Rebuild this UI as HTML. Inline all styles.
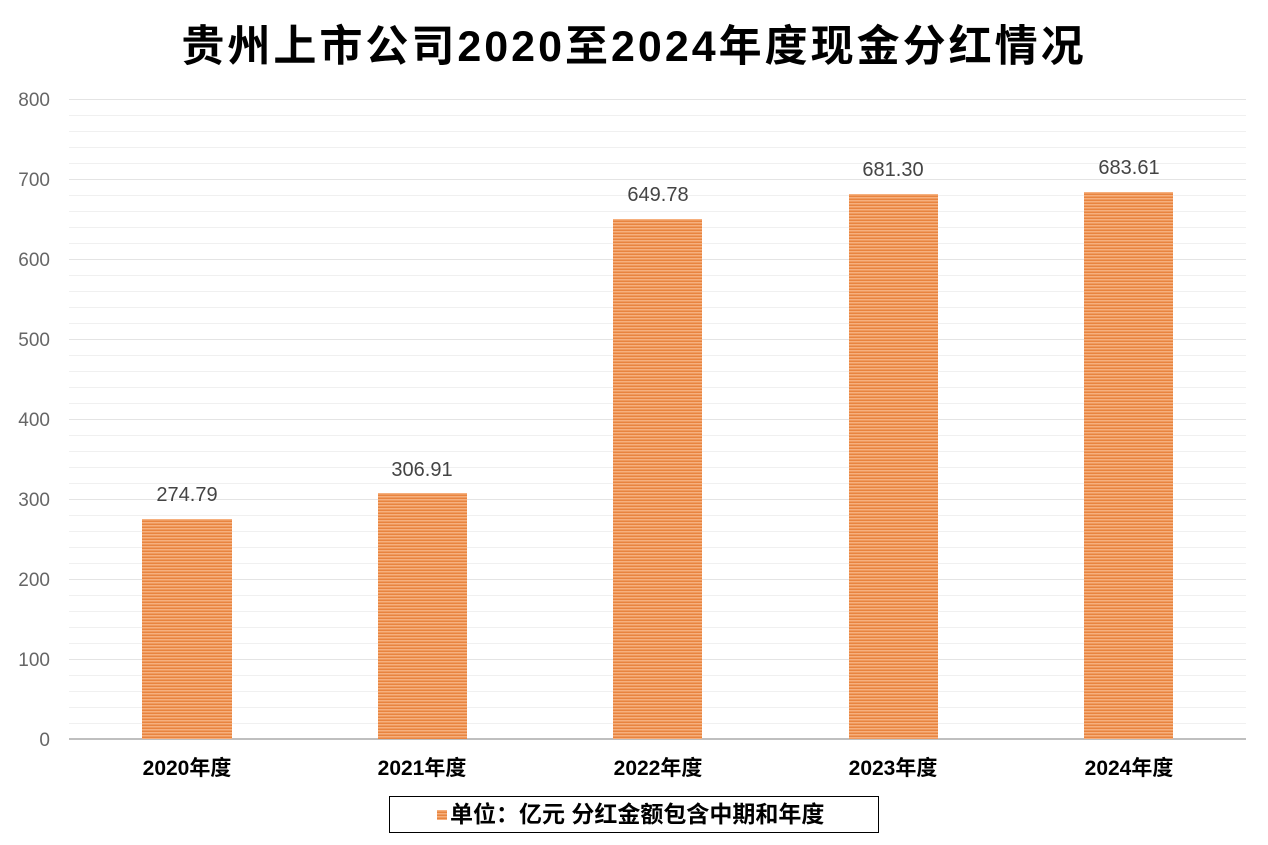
<!DOCTYPE html>
<html><head><meta charset="utf-8"><style>
body{margin:0;width:1268px;height:845px;background:#fff;font-family:"Liberation Sans","Noto Sans CJK SC",sans-serif;position:relative;overflow:hidden}
.t{position:absolute;top:12px;left:0;width:1268px;text-align:center;font-size:43px;font-weight:bold;letter-spacing:3px;color:#000}
.g{position:absolute;left:69px;width:1177px;height:1px;background:#f0f0f0}
.gm{background:#e4e4e4}
.yl{position:absolute;left:0;width:50px;text-align:right;font-size:19px;color:#666}
.bar{position:absolute;background:repeating-linear-gradient(to bottom,#f6b07e 0px,#f6b07e 1.5px,#e8843f 1.5px,#e8843f 3px)}
.v{position:absolute;width:160px;text-align:center;font-size:20px;color:#444}
.x{position:absolute;top:752px;width:200px;text-align:center;font-size:21px;font-weight:bold;color:#000}
</style></head><body>
<div class="t">贵州上市公司2020至2024年度现金分红情况</div>
<div id="grid"></div>
<script>
var h='';
for(var i=0;i<=40;i++){var y=739-i*16;h+='<div class="g'+(i%5==0?' gm':'')+'" style="top:'+y+'px"></div>';}
for(var j=0;j<=8;j++){h+='<div class="yl" style="top:'+(739-j*80-9)+'px">'+(j*100)+'</div>';}
document.getElementById('grid').innerHTML=h;
</script>
<div style="position:absolute;left:69px;top:738px;width:1177px;height:2px;background:#bfbfbf"></div>
<div class="bar" style="left:142px;width:90px;top:519px;height:220px"></div>
<div class="bar" style="left:378px;width:89px;top:493px;height:246px"></div>
<div class="bar" style="left:613px;width:89px;top:219px;height:520px"></div>
<div class="bar" style="left:849px;width:89px;top:194px;height:545px"></div>
<div class="bar" style="left:1084px;width:89px;top:192px;height:547px"></div>
<div class="v" style="left:107px;top:484px">274.79</div>
<div class="v" style="left:342px;top:459px">306.91</div>
<div class="v" style="left:578px;top:184px">649.78</div>
<div class="v" style="left:813px;top:159px">681.30</div>
<div class="v" style="left:1049px;top:157px">683.61</div>
<div class="x" style="left:87px">2020年度</div>
<div class="x" style="left:322px">2021年度</div>
<div class="x" style="left:558px">2022年度</div>
<div class="x" style="left:793px">2023年度</div>
<div class="x" style="left:1029px">2024年度</div>
<div style="position:absolute;left:389px;top:796px;width:490px;height:37px;border:1px solid #000;box-sizing:border-box;font-size:23px;font-weight:bold;line-height:35px;padding-left:47px;white-space:nowrap">
<span style="display:inline-block;width:10px;height:10px;background:repeating-linear-gradient(to bottom,#f6b07e 0,#f6b07e 1.5px,#e8843f 1.5px,#e8843f 3px);margin-right:3px;vertical-align:2px"></span>单位：亿元 分红金额包含中期和年度</div>
</body></html>
